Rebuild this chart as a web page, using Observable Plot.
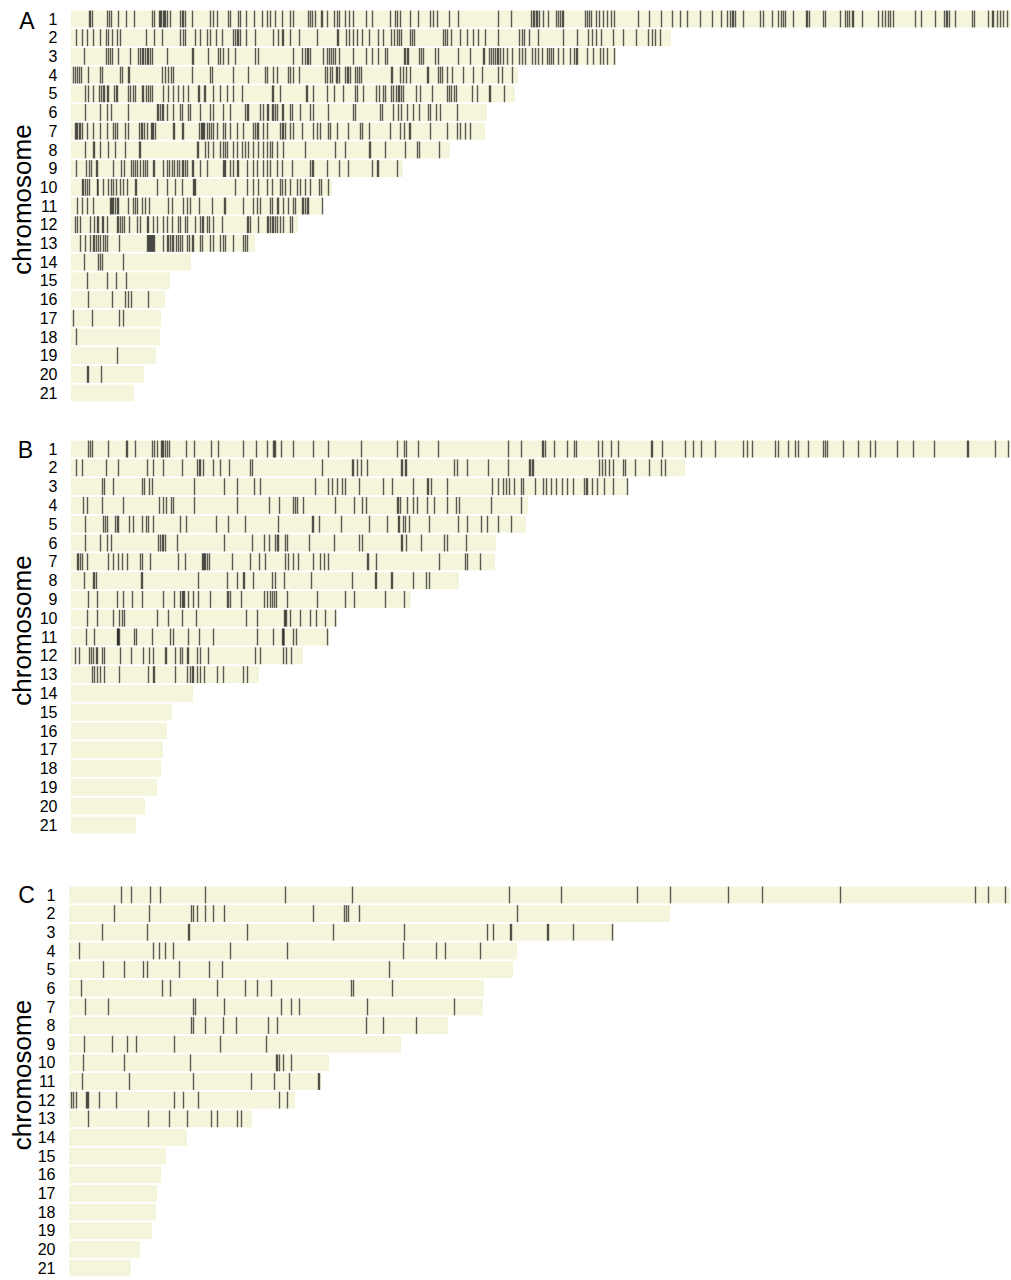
<!DOCTYPE html>
<html><head><meta charset="utf-8">
<script src="https://cdn.jsdelivr.net/npm/d3@7"></script>
<script src="https://cdn.jsdelivr.net/npm/@observablehq/plot@0.6"></script>
<style>
body{margin:0;background:#fff;}
#chart svg{display:block;}
</style>
</head><body><div id="chart"></div>
<script>
// chromosome names
const chromosomes = d3.range(1, 22);

// chromosome lengths (estimated, arbitrary length units) per panel
const lengthsA = [939,600,545,447,444,416,414,379,332,261,252,227,184,120,99,94,90,89,85,73,63];
const lengthsB = [939,614,557,457,455,425,424,388,340,266,258,232,188,122,101,96,92,90,86,74,65];
const lengthsC = [941,601,545,448,444,415,414,379,332,260,252,226,183,118,97,92,88,87,83,71,62];

// marker positions per chromosome, panel A
const sitesA = [
  [18,19,21,36,38,40,47,55,63,81,83,88,89,90,92,93,94,96,99,109,111,112,114,121,139,142,146,157,159,167,169,175,183,191,196,199,204,211,219,222,237,239,241,244,250,251,256,263,266,268,274,278,282,295,301,319,324,326,329,339,347,359,362,366,378,387,427,440,460,462,463,465,466,468,472,477,485,487,489,491,492,514,516,518,520,525,528,532,536,540,543,567,578,590,601,609,616,629,641,650,656,659,661,662,664,672,689,692,701,707,710,712,714,722,735,736,738,752,754,769,774,776,778,781,782,791,807,811,814,817,819,822,844,850,864,873,875,876,878,884,901,903,917,921,922,926,929,932,936],
  [5,11,16,22,29,35,37,41,46,49,75,83,91,109,112,114,124,129,136,139,145,151,162,164,166,167,169,175,184,202,207,211,212,219,228,246,266,267,275,278,282,286,291,298,307,312,320,323,326,328,330,339,341,343,372,374,376,380,389,396,402,407,414,427,448,451,453,458,467,492,506,517,521,525,530,542,552,565,577,581,584,589],
  [13,35,37,39,41,47,59,67,69,71,72,74,76,77,79,81,96,121,122,137,147,149,152,157,164,184,187,222,231,234,236,237,239,252,256,258,260,262,264,268,282,295,301,307,314,316,333,334,336,337,348,350,352,364,367,387,399,412,413,418,420,422,424,426,427,429,432,436,441,448,451,454,461,464,467,471,476,478,480,482,487,492,499,503,505,506,516,522,529,532,536,543],
  [2,4,6,8,10,17,29,31,49,51,57,58,91,94,97,100,102,121,139,141,162,177,194,196,202,206,217,219,222,228,254,256,259,261,265,266,268,274,276,277,279,284,286,288,290,320,321,329,332,335,339,356,357,367,369,371,376,381,392,402,411,427,431,441],
  [14,17,22,28,30,32,33,36,37,43,45,46,57,59,62,64,71,72,75,77,79,81,92,97,102,107,112,117,127,128,133,134,142,149,156,162,171,201,202,209,235,236,242,256,263,272,284,286,292,305,308,312,314,320,322,325,327,328,330,332,345,349,361,376,378,380,383,385,401,406,418,419,433],
  [14,29,36,40,57,86,87,89,91,92,96,102,109,111,117,119,129,139,142,152,159,174,176,177,189,192,196,197,201,202,204,206,211,212,219,221,229,239,242,257,282,284,309,311,322,327,330,336,342,348,357,359,365,369,386],
  [4,5,6,8,9,11,16,22,29,36,42,44,46,54,57,68,70,71,73,76,80,81,82,84,102,103,111,112,128,130,131,132,133,136,138,140,142,146,152,154,159,166,172,182,184,186,187,192,196,209,211,212,214,219,222,231,242,246,249,257,259,266,277,289,291,298,319,329,333,338,339,359,376,386,389,394,399],
  [14,22,23,29,37,44,54,68,69,126,127,134,137,142,149,152,154,156,162,166,171,174,177,182,187,192,196,199,201,206,212,234,264,274,298,299,314,334,346,348,368],
  [5,15,18,20,25,26,42,50,53,60,62,64,66,69,72,74,76,82,83,92,96,98,101,103,106,108,111,112,114,116,121,122,129,136,152,153,154,159,162,166,167,176,182,186,192,196,199,206,211,221,239,241,242,256,268,277,301,306,307,326],
  [11,12,14,16,18,26,26.5,32,37,40,42,45,49,52,56,64,65,86,96,104,111,122,123,124,164,176,182,187,196,201,209,211,214,219,226,229,234,239,248,250,257],
  [6,11,16,22,39,40,41,42,44,46,47,57,62,64,66,71,74,78,97,101,112,116,119,128,141,153,154,172,182,186,189,199,201,206,207,212,217,222,224,231,232,234,236,237,251],
  [4,6,9,19,23,26,27,31,32,36,46,47,49,51,53,58,66,69,76,77,82,86,92,96,101,107,109,114,116,124,129,131,132,136,138,142,151,176,177,179,187,196,197,199,201,202,204,206,209,212,219,221],
  [9,14,19,22,23,25,27,29,32,34,36,48,76,77,78,79,80,81,82,83,92,96,97,99,101,102,105,107,109,111,116,118,121,122,129,131,139,142,149,152,154,162,172,174,176],
  [13,27,29,31,52],
  [16,36,45,55],
  [17,41,54,57,60,77],
  [2,21,48,52],
  [5],
  [46],
  [16,17,30],
  []
];

// marker positions per chromosome, panel B
const sitesB = [
  [17,19,21,37,55,56,64,81,83,86,90,91,92,94,96,98,115,123,140,147,172,185,196,202,203,204,210,222,242,257,290,326,333,335,347,367,437,450,471,472,474,483,496,503,505,527,531,540,547,580,581,591,614,622,630,644,672,676,681,704,707,717,724,727,737,752,754,756,772,787,799,804,826,842,863,896,897,924,937],
  [5,11,35,47,76,82,92,111,126,128,129,132,142,149,158,179,181,251,281,282,286,290,296,330,331,334,335,383,386,396,417,437,458,459,461,462,528,531,534,538,542,552,554,564,578,590,594],
  [31,33,42,71,73,78,81,123,153,166,183,189,244,257,261,266,271,274,288,312,321,342,356,357,360,376,421,427,432,435,438,443,450,452,464,472,475,480,485,491,496,502,513,515,516,521,526,533,542,556],
  [12,16,31,52,88,92,95,100,102,123,166,198,208,222,224,226,232,264,283,291,295,326,327,329,336,342,346,356,363,376,385,388,420,450],
  [14,32,34,36,44,46,47,58,62,71,75,77,82,109,115,145,157,174,207,241,242,248,270,298,316,327,328,332,334,338,358,387,396,410,416,427,440],
  [14,29,36,40,87,89,91,92,94,106,153,181,193,198,204,206,207,214,216,238,263,288,291,330,331,335,350,373,376,395],
  [6,7,9,11,16,37,42,47,51,56,69,71,79,107,114,131,132,133,134,136,138,161,179,188,194,214,217,222,227,242,249,253,257,296,297,305,368,394,396,409],
  [13,22,23,25,70,71,127,156,166,172,173,182,201,204,213,240,281,304,305,320,321,342,355,358],
  [17,26,46,52,61,71,92,103,109,111,112,113,117,122,127,139,156,157,159,170,193,196,199,201,203,205,216,246,274,283,314,333],
  [16,26,42,48,51,53,86,97,111,125,175,186,213,214,215,219,229,239,245,254,264],
  [15,23,46,46.5,47,48,63,65,81,99,102,117,128,142,186,202,211,212,212.5,222,225,256],
  [4,8,18,20,22,25,26,31,33,49,60,72,78,82,94,95,104,109,111,116,117,126,129,137,184,189,212,215,220],
  [21,23,26,29,33,48,77,82,83,104,116,119,121,122,126,129,133,146,152,172,176],
  [],[],[],[],[],[],[],[]
];

// marker positions per chromosome, panel C
const sitesC = [
  [52,62,81,91,136,216,283,440,492,568,601,659,693,771,906,919,936],
  [45,80,122,124,128,136,144,155,244,275,277,279,290,448],
  [33,78,119,120,178,264,335,418,424,441,442,478,479,504,543],
  [10,84,90,96,104,161,218,334,367,376,411],
  [34,55,74,78,110,140,153,320],
  [12,93,101,148,176,188,202,282,284,323],
  [16,39,124,126,155,212,222,230,298,385],
  [122,124,136,154,167,199,208,297,314,347],
  [15,43,58,67,105,151,197],
  [14,55,121,207,208,210,214,222],
  [13,60,124,182,205,220,249,250],
  [2,4,7,17,18,19,30,47,105,114,129,210,218],
  [19,79,100,118,142,148,168,172],
  [],[],[],[],[],[],[],[]
];

const panelLetters = ["A", "B", "C"];
const axisTitle = "chromosome";

function panel({letter, lengths, sites, height, marginTop, marginBottom, marginLeft, letterDx, letterDy, titleDx}) {
  const bars = chromosomes.map((c, i) => ({chr: c, len: lengths[i]}));
  const marks = sites.flatMap((arr, i) => arr.map(p => ({chr: i + 1, pos: p})));
  return Plot.plot({
    width: 1011,
    height,
    marginTop,
    marginBottom,
    marginLeft,
    marginRight: 1,
    style: {fontFamily: '"Liberation Sans", Arial, sans-serif', fontSize: "16px", color: "#000", background: "#fff", overflow: "visible"},
    x: {domain: [0, lengths[0]], axis: null},
    y: {domain: chromosomes, paddingInner: 0.1, paddingOuter: 0.03, round: false},
    marks: [
      Plot.barX(bars, {x: "len", y: "chr", fill: "#f5f5dc"}),
      Plot.tickX(marks, {x: "pos", y: "chr", stroke: "#111", strokeOpacity: 0.68, strokeWidth: 1.4}),
      Plot.axisY({tickSize: 0, tickPadding: 14, fontSize: 16, label: null}),
      Plot.text([letter], {text: d => d, frameAnchor: "top-left", textAnchor: "middle", lineAnchor: "middle", dx: letterDx, dy: letterDy, fontSize: 23}),
      Plot.text([axisTitle], {text: d => d, frameAnchor: "left", textAnchor: "middle", lineAnchor: "middle", rotate: -90, dx: titleDx, dy: -7, fontSize: 26})
    ]
  });
}

const chart = document.getElementById("chart");
chart.append(panel({letter: panelLetters[0], lengths: lengthsA, sites: sitesA, height: 410, marginTop: 10, marginBottom: 8, marginLeft: 71, letterDx: -44.5, letterDy: 11.5, titleDx: -49}));
chart.append(panel({letter: panelLetters[1], lengths: lengthsB, sites: sitesB, height: 435, marginTop: 30, marginBottom: 11, marginLeft: 71, letterDx: -46, letterDy: 10.5, titleDx: -49}));
chart.append(panel({letter: panelLetters[2], lengths: lengthsC, sites: sitesC, height: 435, marginTop: 41, marginBottom: 3, marginLeft: 69, letterDx: -43, letterDy: 9.5, titleDx: -47}));
</script>
</body></html>
